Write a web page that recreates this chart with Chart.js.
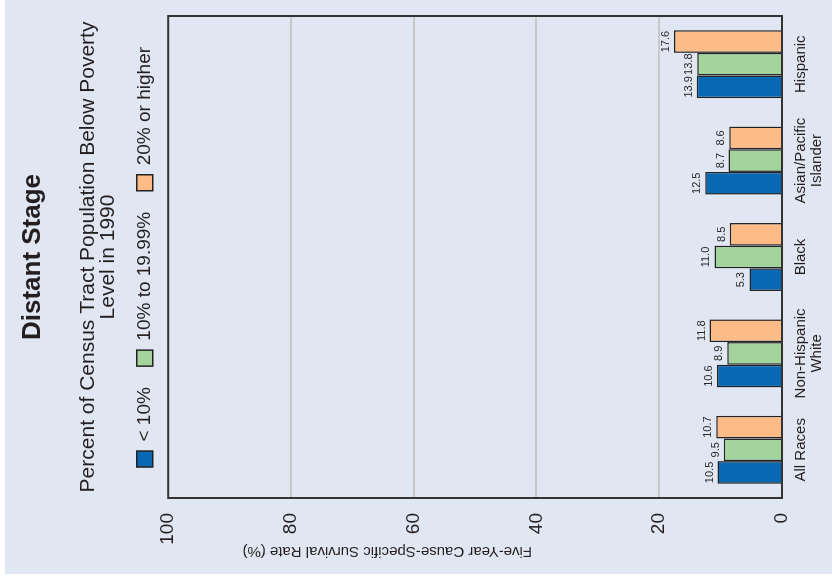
<!DOCTYPE html>
<html>
<head>
<meta charset="utf-8">
<script src="https://cdn.jsdelivr.net/npm/chart.js@4.4.1/dist/chart.umd.min.js"></script>
<style>
  html, body { margin: 0; padding: 0; background: #fff; overflow: hidden; }
  #bg { position: absolute; left: 5px; top: 0; width: 827px; height: 574px; background: #e0e6f2; }
  /* the chart is drawn upright, then turned a quarter turn to the left */
  #wrap { position: absolute; left: 0; top: 0; width: 578px; height: 832px;
          transform-origin: 0 0; transform: translate(0, 578px) rotate(-90deg); }
  canvas { display: block; }
</style>
</head>
<body>
<div id="bg"></div>
<div id="wrap"><canvas id="chart" width="578" height="832"></canvas></div>
<script>
const categories = ['All Races', ['Non-Hispanic', 'White'], 'Black', ['Asian/Pacific', 'Islander'], 'Hispanic'];
const seriesNames = ['< 10%', '10% to 19.99%', '20% or higher'];
const under10 = [10.5, 10.6, 5.3, 12.5, 13.9];
const from10to20 = [9.5, 8.9, 11.0, 8.7, 13.8];
const over20 = [10.7, 11.8, 8.5, 8.6, 17.6];
const yTicks = [0, 20, 40, 60, 80, 100];

const FONT = '"Liberation Sans", Arial, Helvetica, sans-serif';
const textColor = '#231f20';
const barColors = ['#0868b4', '#a3d49b', '#fcbb87'];

Chart.defaults.font.family = FONT;
Chart.defaults.color = textColor;

// value printed above each bar
const valueLabels = {
  id: 'valueLabels',
  afterDatasetsDraw(chart) {
    const ctx = chart.ctx;
    ctx.save();
    ctx.font = '11px ' + FONT;
    ctx.fillStyle = textColor;
    ctx.textAlign = 'center';
    ctx.textBaseline = 'alphabetic';
    chart.data.datasets.forEach((ds, i) => {
      chart.getDatasetMeta(i).data.forEach((bar, j) => {
        ctx.fillText(ds.data[j].toFixed(1), bar.x, bar.y - 5);
      });
    });
    ctx.restore();
  }
};

// dark box round the plot
const frame = {
  id: 'frame',
  afterDatasetsDraw(chart) {
    const {ctx, chartArea: a} = chart;
    ctx.save();
    ctx.strokeStyle = '#333';
    ctx.lineWidth = 2;
    ctx.strokeRect(a.left, a.top, a.right - a.left, a.bottom - a.top);
    ctx.restore();
  }
};

// legend sits a little higher above the plot than chart.js puts it
const legendNudge = {
  id: 'legendNudge',
  afterLayout(chart) {
    chart.legend.top -= 4;
    chart.legend.bottom -= 4;
  }
};

// y axis title, sits off-centre in the original
const yTitle = {
  id: 'yTitle',
  afterDraw(chart) {
    const ctx = chart.ctx;
    ctx.save();
    ctx.translate(27, chart.chartArea.top + 219);
    ctx.rotate(-Math.PI / 2);
    ctx.font = '15px ' + FONT;
    ctx.fillStyle = textColor;
    ctx.textAlign = 'center';
    ctx.textBaseline = 'middle';
    ctx.fillText('Five-Year Cause-Specific Survival Rate (%)', 0, 0);
    ctx.restore();
  }
};

new Chart(document.getElementById('chart').getContext('2d'), {
  type: 'bar',
  data: {
    labels: categories,
    datasets: [under10, from10to20, over20].map((d, i) => ({
      label: seriesNames[i],
      data: d,
      backgroundColor: barColors[i],
      borderColor: '#222',
      borderWidth: 1.5,
      categoryPercentage: 0.705,
      barPercentage: 1.0
    }))
  },
  options: {
    responsive: false,
    animation: false,
    events: [],
    layout: { padding: { top: 0, left: 0, right: 16, bottom: 0 } },
    plugins: {
      title: {
        display: true,
        text: 'Distant Stage',
        fullSize: false,
        font: { size: 26, weight: 'bold' },
        padding: { top: 17, bottom: 19 }
      },
      subtitle: {
        display: true,
        text: ['Percent of Census Tract Population Below Poverty', 'Level in 1990'],
        fullSize: false,
        font: { size: 21, lineHeight: '20px' },
        padding: { top: 11, bottom: 0 }
      },
      legend: {
        position: 'top',
        fullSize: false,
        labels: {
          boxWidth: 16,
          boxHeight: 16,
          padding: 21,
          font: { size: 19 },
          color: textColor
        }
      },
      tooltip: { enabled: false }
    },
    scales: {
      x: {
        grid: { display: false, drawTicks: false },
        border: { display: false },
        ticks: { font: { size: 15, lineHeight: 1.05 }, padding: 11, maxRotation: 0, autoSkip: false },
        afterFit(s) { s.height = 50; }
      },
      y: {
        min: 0,
        max: 100,
        grid: {
          color: c => (c.tick.value === 0 || c.tick.value === 100) ? 'rgba(0,0,0,0)' : '#c8c8c8',
          lineWidth: 2,
          drawTicks: false
        },
        border: { display: false },
        ticks: { font: { size: 19 }, padding: 15 },
        afterBuildTicks(s) { s.ticks = yTicks.map(v => ({ value: v })); },
        afterFit(s) { s.width = 80; }
      }
    }
  },
  plugins: [valueLabels, frame, legendNudge, yTitle]
});
</script>
</body>
</html>
